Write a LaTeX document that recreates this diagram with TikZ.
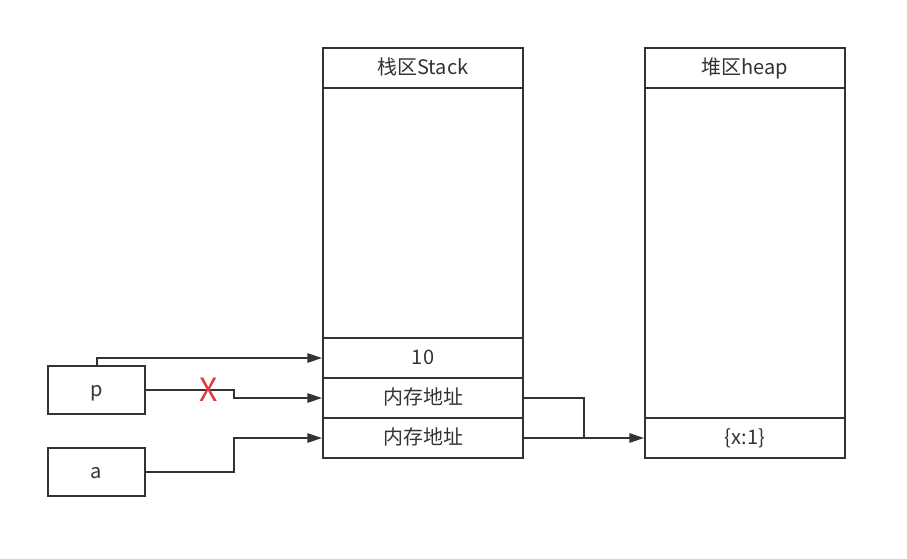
\documentclass[tikz,border=0pt]{standalone}
\usepackage{fontspec}
\setmainfont{Noto Sans CJK SC}
\usetikzlibrary{arrows.meta}
\definecolor{inkc}{HTML}{333333}
\definecolor{crossc}{HTML}{E03A3A}
\begin{document}
\begin{tikzpicture}[x=0.75pt,y=-0.75pt,
    every node/.style={font=\fontsize{15}{17}\selectfont, text=inkc},
    cell/.style={draw=inkc, line width=1.5pt, minimum width=150pt, minimum height=30pt, inner sep=0pt, text height=9.6pt, text depth=0pt},
    varbox/.style={draw=inkc, line width=1.5pt, minimum width=72.75pt, minimum height=36pt, inner sep=0pt, text height=9.6pt, text depth=0pt},
    link/.style={draw=inkc, line width=1.5pt, -{Triangle[length=11pt,width=7pt]}},
    plain/.style={draw=inkc, line width=1.5pt}]
    \useasboundingbox (0,0) rectangle (907,558);

    \begin{scope}
      \node[cell] (stackhead) at (423,68) {栈区Stack};
      \node[cell, minimum height=187.5pt] (stackbody) at (423,213) {};
      \node[cell] (ten) at (423,358) {10};
      \node[cell] (addrp) at (423,398) {内存地址};
      \node[cell] (addra) at (423,438) {内存地址};
    \end{scope}

    \begin{scope}
      \node[cell] (heaphead) at (745,68) {堆区heap};
      \node[cell, minimum height=247.5pt] (heapbody) at (745,253) {};
      \node[cell] (obj) at (745,438) {\{x:1\}};
    \end{scope}

    \node[varbox] (p) at (96.5,390) {p};
    \node[varbox] (a) at (96.5,472) {a};

    \coordinate (leftbend) at (234,0);
    \coordinate (rightbend) at (584,0);

    \draw[link] (p.north) |- (ten.west);
    \draw[link] (p.east) -- (p.east -| leftbend) |- (addrp.west);
    \draw[link] (a.east) -- (a.east -| leftbend) |- (addra.west);
    \draw[plain] (addrp.east) -- (addrp.east -| rightbend) -- (obj.west -| rightbend);
    \draw[link] (addra.east) -- (obj.west);

    \node[text=crossc, font=\fontsize{24}{26}\selectfont] (cross) at (209,390) {X};
  \end{tikzpicture}
\end{document}
